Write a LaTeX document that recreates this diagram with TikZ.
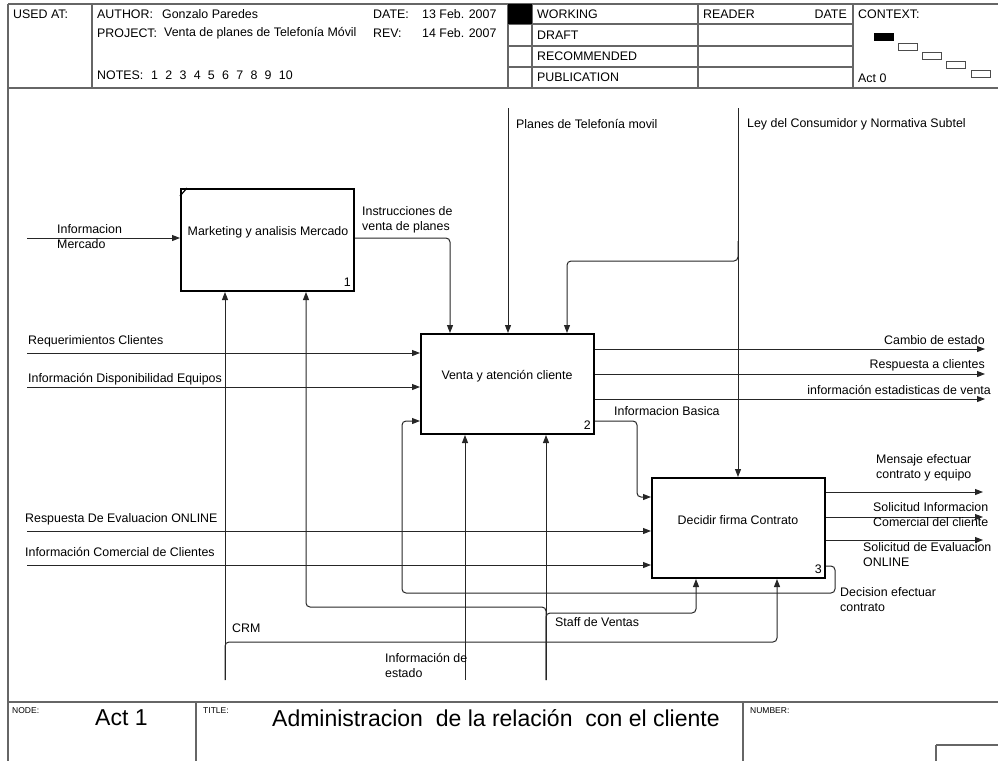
\documentclass[tikz,border=0pt]{standalone}
\usepackage{fontspec}
\setmainfont{Liberation Sans}
\usetikzlibrary{arrows.meta,calc}

\begin{document}
\begin{tikzpicture}[x=1pt,y=-1pt,
  frame/.style={draw=black!60, line width=1.3pt},
  box/.style={draw=black, line width=2pt, minimum width=173pt, minimum height=100pt, inner sep=0pt},
  txt/.style={font=\fontsize{12.4}{15}\selectfont, inner sep=0pt, anchor=west, align=left},
  txtr/.style={txt, anchor=east, align=right},
  small/.style={font=\fontsize{8.5}{10}\selectfont, inner sep=0pt, anchor=west},
  big/.style={font=\fontsize{23}{26}\selectfont, inner sep=0pt, anchor=west},
  arr/.style={draw=black!85, line width=1pt, rounded corners=4pt, -{Triangle[length=8pt,width=6pt]}},
  ctx/.style={draw=black!70, line width=0.9pt}
]
\useasboundingbox (0,0) rectangle (998,761);

% ---------- form frame ----------
\draw[frame] (8,4) -- (1000,4);
\draw[frame] (8,4) -- (8,761);
\draw[frame] (8,88) -- (1000,88);
\draw[frame] (92,4) -- (92,88);
\draw[frame] (508,4) -- (508,88);
\draw[frame] (532,4) -- (532,88);
\draw[frame] (698,4) -- (698,88);
\draw[frame] (853,4) -- (853,88);
\draw[frame] (508,24) -- (853,24);
\draw[frame] (508,46) -- (853,46);
\draw[frame] (508,67) -- (853,67);
\fill[black] (508,4) rectangle (532,24);

\draw[frame] (8,702) -- (1000,702);
\draw[frame] (196,702) -- (196,761);
\draw[frame] (743,702) -- (743,761);
\draw[frame] (936,745) -- (1000,745);
\draw[frame] (936,745) -- (936,761);

% ---------- header texts ----------
\node[txt] (usedat) at (13,14) {USED AT:};
\node[txt] (author) at (97,14) {AUTHOR:};
\node[txt] (authorv) at (162,14) {Gonzalo Paredes};
\node[txt] (date) at (373,14) {DATE:};
\node[txt] (datev) at (422,14) {13 Feb. 2007};
\node[txt] (project) at (97,33) {PROJECT:};
\node[txt] (projectv) at (164,33) {Venta de planes de Telefonía Móvil};
\node[txt] (rev) at (373,33) {REV:};
\node[txt] (revv) at (422,33) {14 Feb. 2007};
\node[txt] (notes) at (97,75) {NOTES:};
\node[txt] (notesv) at (151,75) {1\hspace{7.3pt}2\hspace{7.3pt}3\hspace{7.3pt}4\hspace{7.3pt}5\hspace{7.3pt}6\hspace{7.3pt}7\hspace{7.3pt}8\hspace{7.3pt}9\hspace{7.3pt}10};
\node[txt] (working) at (537,14) {WORKING};
\node[txt] (draft) at (537,35) {DRAFT};
\node[txt] (recom) at (537,56) {RECOMMENDED};
\node[txt] (public) at (537,77) {PUBLICATION};
\node[txt] (reader) at (703,14) {READER};
\node[txtr] (rdate) at (847,14) {DATE};
\node[txt] (context) at (858,14) {CONTEXT:};
\node[txt] (act0) at (858,78) {Act 0};

% context thumbnail
\fill[black] (874,33) rectangle (894,41);
\draw[ctx] (898,43) rectangle (917,50);
\draw[ctx] (922,52) rectangle (941,59);
\draw[ctx] (946,61) rectangle (965,68);
\draw[ctx] (971,70) rectangle (990,77);

% ---------- footer texts ----------
\node[small] (nodel) at (12,711) {NODE:};
\node[big] (nodev) at (95,718) {Act 1};
\node[small] (titlel) at (203,711) {TITLE:};
\node[big] (titlev) at (272,718) {Administracion~ de la relación~ con el cliente};
\node[small] (numberl) at (750,711) {NUMBER:};

% ---------- activity boxes ----------
\node[box, minimum height=102pt] (b1) at (267.5,240) {};
\node[box] (b2) at (507.5,384) {};
\node[box] (b3) at (738.5,528) {};
\draw[line width=1.2pt] ($(b1.north west)+(7,0)$) -- ($(b1.north west)+(0,8)$);

\node[txt, anchor=center] (b1t) at (268,232) {Marketing y analisis Mercado};
\node[txt, anchor=center] (b2t) at (507,376) {Venta y atención cliente};
\node[txt, anchor=center] (b3t) at (738,520) {Decidir firma Contrato};
\node[txt, anchor=south east] (b1n) at ($(b1.south east)+(-4,-5)$) {1};
\node[txt, anchor=south east] (b2n) at ($(b2.south east)+(-4,-5)$) {2};
\node[txt, anchor=south east] (b3n) at ($(b3.south east)+(-4,-5)$) {3};

% ---------- coordinates of free ends and routing ----------
\coordinate (srcMerc) at (27,238);
\coordinate (instrX) at (450,0);
\coordinate (srcPlanes) at (508,108);
\coordinate (srcLey) at (738,108);
\coordinate (leyJ) at (738,261);
\coordinate (leyX) at (567,0);
\coordinate (srcReq) at (27,353);
\coordinate (srcDisp) at (27,387);
\coordinate (outCambio) at (985,349);
\coordinate (outResp) at (985,374);
\coordinate (outEst) at (985,399);
\coordinate (ibY) at (0,421);
\coordinate (ibX) at (637,0);
\coordinate (ibIn) at (0,497);
\coordinate (fbOut) at (0,566);
\coordinate (fbR) at (835,593);
\coordinate (fbL) at (402,593);
\coordinate (srcEval) at (27,531);
\coordinate (srcCom) at (27,565);
\coordinate (outMsg) at (983,492);
\coordinate (outSolI) at (983,517);
\coordinate (outSolE) at (983,540);
\coordinate (srcCRM) at (225,680);
\coordinate (crmY) at (0,642);
\coordinate (crmX) at (777,0);
\coordinate (srcEstado) at (465,680);
\coordinate (srcStaff) at (546,680);
\coordinate (stfR) at (696,613);
\coordinate (stfL) at (306,607);

% ---------- connectors ----------
\draw[arr] (srcMerc) -- (srcMerc -| b1.west);
\draw[arr] (b1.east |- srcMerc) -| (b2.north -| instrX);
\draw[arr] (srcPlanes) -- (srcPlanes |- b2.north);
\draw[arr] (srcLey) -- (srcLey |- b3.north);
\draw[arr] ($(leyJ)+(0,-20)$) -- (leyJ) -| (b2.north -| leyX);
\draw[arr] (srcReq) -- (srcReq -| b2.west);
\draw[arr] (srcDisp) -- (srcDisp -| b2.west);
\draw[arr] (outCambio -| b2.east) -- (outCambio);
\draw[arr] (outResp -| b2.east) -- (outResp);
\draw[arr] (outEst -| b2.east) -- (outEst);
\draw[arr] (b2.east |- ibY) -| (ibX |- ibIn) -- (b3.west |- ibIn);
\draw[arr] (b3.east |- fbOut) -| (fbR) -- (fbL) |- (b2.west |- ibY);
\draw[arr] (srcEval) -- (srcEval -| b3.west);
\draw[arr] (srcCom) -- (srcCom -| b3.west);
\draw[arr] (outMsg -| b3.east) -- (outMsg);
\draw[arr] (outSolI -| b3.east) -- (outSolI);
\draw[arr] (outSolE -| b3.east) -- (outSolE);
\draw[arr] (srcCRM) -- (srcCRM |- b1.south);
\draw[arr] (srcCRM) |- (crmX |- crmY) -- (b3.south -| crmX);
\draw[arr] (srcEstado) -- (srcEstado |- b2.south);
\draw[arr] (srcStaff) -- (srcStaff |- b2.south);
\draw[arr] (srcStaff) |- (stfR) -- (b3.south -| stfR);
\draw[arr] (srcStaff) |- (stfL) -- (b1.south -| stfL);

% ---------- connector labels ----------
\node[txt] (lMerc) at (57,237) {Informacion\\Mercado};
\node[txt] (lInstr) at (362,220) {Instrucciones de\\venta de planes};
\node[txt] (lPlanes) at (516,124) {Planes de Telefonía movil};
\node[txt] (lLey) at (747,124) {Ley del Consumidor y Normativa Subtel};
\node[txt] (lReq) at (28,341) {Requerimientos Clientes};
\node[txt] (lDisp) at (28,379) {Información Disponibilidad Equipos};
\node[txtr] (lCambio) at (985,340) {Cambio de estado};
\node[txtr] (lResp) at (985,365) {Respuesta a clientes};
\node[txtr] (lEst) at (991,390) {información estadisticas de venta};
\node[txt] (lIB) at (614,411) {Informacion Basica};
\node[txt] (lMsg) at (876,468) {Mensaje efectuar\\contrato y equipo};
\node[txt] (lSolI) at (873,515) {Solicitud Informacion\\Comercial del cliente};
\node[txt] (lSolE) at (863,555) {Solicitud de Evaluacion\\ONLINE};
\node[txt] (lDec) at (840,600) {Decision efectuar\\contrato};
\node[txt] (lEval) at (25,519) {Respuesta De Evaluacion ONLINE};
\node[txt] (lCom) at (25,552) {Información Comercial de Clientes};
\node[txt] (lCRM) at (232,628) {CRM};
\node[txt] (lStaff) at (555,622) {Staff de Ventas};
\node[txt] (lEstado) at (385,665) {Información de\\estado};
\end{tikzpicture}
\end{document}
